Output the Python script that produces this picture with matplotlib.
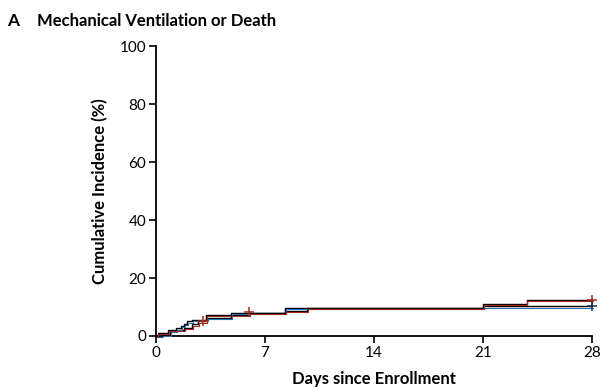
import matplotlib
matplotlib.use("Agg")
import matplotlib.pyplot as plt
from matplotlib.transforms import offset_copy

plt.rcParams['font.family'] = ['Lato', 'DejaVu Sans']

# --- Data ---
red_days = [0, 0.1, 0.8, 1.8, 2.3, 2.7, 3.2, 4.9, 6.0, 8.3, 9.7, 21.0, 23.8, 28]
red_pct = [0, 1.0, 2.0, 2.8, 4.0, 5.0, 7.3, 7.3, 8.0, 8.6, 9.6, 11.0, 12.4, 12.4]
red_cens_days = [3.0, 6.0, 28]
red_cens_pct = [5.0, 8.3, 12.4]

blue_days = [0, 0.4, 0.9, 1.3, 1.6, 1.8, 2.0, 2.3, 3.3, 4.8, 6.0, 8.3, 21.0, 28]
blue_pct = [0, 0.5, 1.8, 2.6, 3.4, 4.2, 5.0, 5.6, 6.3, 8.0, 8.0, 9.6, 10.2, 10.2]
blue_cens_days = [28]
blue_cens_pct = [10.2]

xticks = [0, 7, 14, 21, 28]
yticks = [0, 20, 40, 60, 80, 100]

RED = "#a52a1f"
BLUE = "#2a6fb0"

fig = plt.figure(figsize=(6, 3.87), dpi=100)
ax = fig.add_axes([0.26, 0.1318, 0.7267, 0.7492])

for days, pct, col in [(blue_days, blue_pct, BLUE), (red_days, red_pct, RED)]:
    ax.step(days, pct, where="post", color="black", lw=1.0, clip_on=False, zorder=3)
    shifted = offset_copy(ax.transData, fig=fig, x=0.6, y=-0.8, units="points")
    ax.step(days, pct, where="post", color=col, lw=0.8, clip_on=False,
            transform=shifted, zorder=4)

ax.plot(red_cens_days, red_cens_pct, "+", color=RED, ms=7, mew=1.1,
        clip_on=False, zorder=5)
ax.plot(blue_cens_days, blue_cens_pct, "+", color="#1a2f55", ms=7, mew=1.1,
        clip_on=False, zorder=5)

ax.set_xlim(0, 28)
ax.set_ylim(0, 100)
ax.set_xticks(xticks)
ax.set_yticks(yticks)
ax.tick_params(direction="out", length=5, width=1.2, labelsize=11, pad=2)
for s in ["top", "right"]:
    ax.spines[s].set_visible(False)
for s in ["left", "bottom"]:
    ax.spines[s].set_linewidth(1.3)

ax.set_xlabel("Days since Enrollment", fontsize=12, fontweight="bold", labelpad=8)
ax.set_ylabel("Cumulative Incidence (%)", fontsize=12, fontweight="bold", labelpad=8)

fig.text(0.012, 0.947, "A", fontsize=12.5, fontweight="bold", va="center")
fig.text(0.062, 0.947, "Mechanical Ventilation or Death", fontsize=12,
         fontweight="bold", va="center")

fig.savefig("out.png", dpi=100)
